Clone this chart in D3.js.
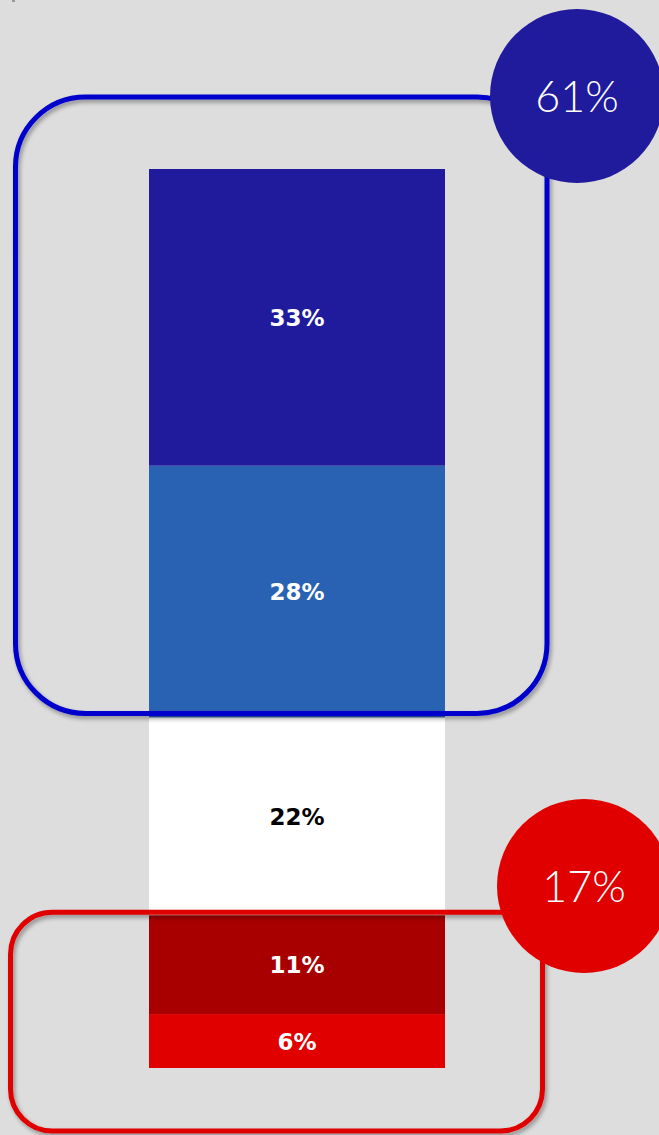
<!DOCTYPE html>
<html><head><meta charset="utf-8">
<script src="https://cdn.jsdelivr.net/npm/d3@7"></script>
<style>
html,body{margin:0;padding:0;background:#dddddd;}
svg{display:block;}
</style></head>
<body>
<script>
// Data (stack order bottom -> top)
const categories = ["Très insatisfait","Insatisfait","Neutre","Satisfait","Très satisfait"];
const values = [6, 11, 22, 28, 33];
const labels = ["6%","11%","22%","28%","33%"];
const colors = ["#e00000","#a80000","#ffffff","#2962b2","#201a9c"];
const labelColors = ["#ffffff","#ffffff","#000000","#ffffff","#ffffff"];
const groupTotals = [{name:"positive", value:61, label:"61%"},{name:"negative", value:17, label:"17%"}];

const W = 659, H = 1135;
const svg = d3.select("body").append("svg").attr("width", W).attr("height", H);
svg.append("rect").attr("width", W).attr("height", H).attr("fill", "#dddddd");
svg.append("rect").attr("x", 12).attr("y", 0).attr("width", 3).attr("height", 2).attr("fill", "#999999");

const defs = svg.append("defs");
const f = defs.append("filter").attr("id","sh").attr("x","-10%").attr("y","-10%").attr("width","120%").attr("height","120%");
f.append("feDropShadow").attr("dx",2).attr("dy",3).attr("stdDeviation",2).attr("flood-color","#000").attr("flood-opacity",0.35);

const y = d3.scaleLinear().domain([0, 100]).range([1068, 169]);
const x = d3.scaleBand().domain(["bar"]).range([149, 445]).padding(0);

let cum = 0;
const stack = values.map((v,i) => { const s = {v, i, y0: cum, y1: cum + v}; cum += v; return s; });

const g = svg.append("g");
g.selectAll("rect.seg").data(stack).enter().append("rect")
  .attr("class","seg")
  .attr("x", x("bar")).attr("width", x.bandwidth())
  .attr("y", d => y(d.y1)).attr("height", d => y(d.y0) - y(d.y1))
  .attr("fill", d => colors[d.i]);

g.selectAll("text.lab").data(stack).enter().append("text")
  .attr("x", x("bar") + x.bandwidth()/2)
  .attr("y", d => (y(d.y0) + y(d.y1))/2 + 8.5)
  .attr("text-anchor","middle")
  .attr("font-family","DejaVu Sans, Verdana, sans-serif")
  .attr("font-weight","bold")
  .attr("font-size", 23)
  .attr("fill", d => labelColors[d.i])
  .text(d => labels[d.i]);

// Group frames
const posTop = y(100) - 72, posBot = y(100 - 61) - 4;
const negTop = y(17) - 3, negBot = y(0) + 63;

svg.append("rect")
  .attr("x", 15.5).attr("y", posTop).attr("width", 547 - 15.5).attr("height", posBot - posTop)
  .attr("rx", 70).attr("ry", 70)
  .attr("fill","none").attr("stroke","#0000cc").attr("stroke-width",5)
  .attr("filter","url(#sh)");

svg.append("rect")
  .attr("x", 10.5).attr("y", negTop).attr("width", 542.5 - 10.5).attr("height", negBot - negTop)
  .attr("rx", 42).attr("ry", 42)
  .attr("fill","none").attr("stroke","#e00000").attr("stroke-width",5)
  .attr("filter","url(#sh)");

// Circles
const circ = [
  {cx: 577, cy: 96, r: 87, fill: "#201a9c", label: groupTotals[0].label},
  {cx: 584, cy: 886, r: 87, fill: "#e00000", label: groupTotals[1].label}
];
svg.selectAll("circle.tot").data(circ).enter().append("circle")
  .attr("cx", d => d.cx).attr("cy", d => d.cy).attr("r", d => d.r)
  .attr("fill", d => d.fill);
svg.selectAll("text.tot").data(circ).enter().append("text")
  .attr("x", d => d.cx).attr("y", d => d.cy + 16)
  .attr("text-anchor","middle")
  .attr("font-family","Lato, 'DejaVu Sans', sans-serif")
  .attr("font-weight", 300)
  .attr("font-size", 43)
  .attr("fill","#ffffff")
  .text(d => d.label);
</script>
</body></html>
